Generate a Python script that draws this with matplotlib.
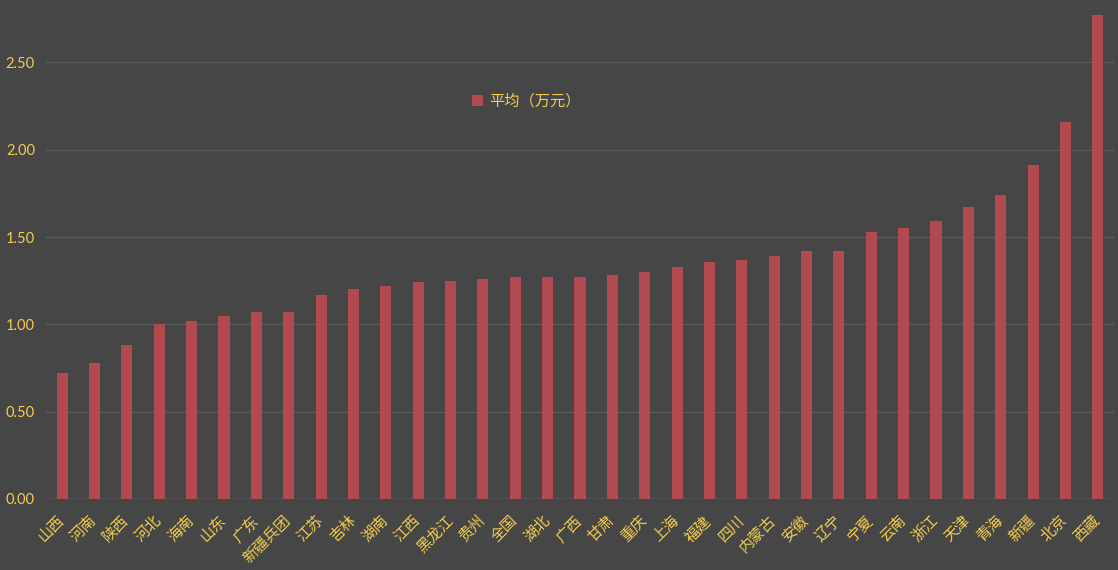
import matplotlib
matplotlib.use("Agg")
import matplotlib.pyplot as plt
from matplotlib.patches import Patch

plt.rcParams['font.family'] = ['Noto Sans CJK SC', 'DejaVu Sans']

categories = ["山西", "河南", "陕西", "河北", "海南", "山东", "广东", "新疆兵团", "江苏", "吉林",
              "湖南", "江西", "黑龙江", "贵州", "全国", "湖北", "广西", "甘肃", "重庆", "上海",
              "福建", "四川", "内蒙古", "安徽", "辽宁", "宁夏", "云南", "浙江", "天津", "青海",
              "新疆", "北京", "西藏"]
values = [0.72, 0.78, 0.88, 1.00, 1.02, 1.05, 1.07, 1.07, 1.17, 1.20,
          1.22, 1.24, 1.25, 1.26, 1.27, 1.27, 1.27, 1.28, 1.30, 1.33,
          1.36, 1.37, 1.39, 1.42, 1.42, 1.53, 1.55, 1.59, 1.67, 1.74,
          1.91, 2.16, 2.77]
yticks = [0.0, 0.5, 1.0, 1.5, 2.0, 2.5]
series_name = "平均（万元）"

bg = "#464646"
bar_color = "#B04A50"
text_color = "#F2CD4F"
grid_color = "#5C5C5C"

fig = plt.figure(figsize=(11.18, 5.70), dpi=100, facecolor=bg)
ax = fig.add_axes([46/1118, 71/570, 1068/1118, 497/570], facecolor=bg)

x = list(range(len(categories)))
ax.bar(x, values, width=0.34, color=bar_color, zorder=3)

ax.set_xlim(-0.5, len(categories) - 0.5)
ax.set_ylim(0, 2.846)
ax.set_yticks(yticks)
ax.set_yticklabels([f"{v:.2f}" for v in yticks], color=text_color, fontsize=10.5, family=['Lato', 'DejaVu Sans'])
ax.set_xticks(x)
ax.set_xticklabels(categories, rotation=45, ha='right', va='center', rotation_mode='anchor',
                   color=text_color, fontsize=10.8)
ax.tick_params(axis='x', length=0, pad=14)
ax.tick_params(axis='y', length=0, pad=8)

for s in ax.spines.values():
    s.set_visible(False)
ax.grid(axis='y', color=grid_color, linewidth=0.9, zorder=0)
ax.axhline(0, color="#707070", linewidth=1, zorder=2)

handles = [Patch(facecolor=bar_color, edgecolor='none', label=series_name)]
leg = ax.legend(handles=handles, loc='center left', bbox_to_anchor=(0.386, 0.80),
                frameon=False, fontsize=11, handlelength=0.7, handleheight=0.7,
                handletextpad=0.4, labelcolor=text_color)

fig.savefig("out.png", dpi=100, facecolor=bg)
